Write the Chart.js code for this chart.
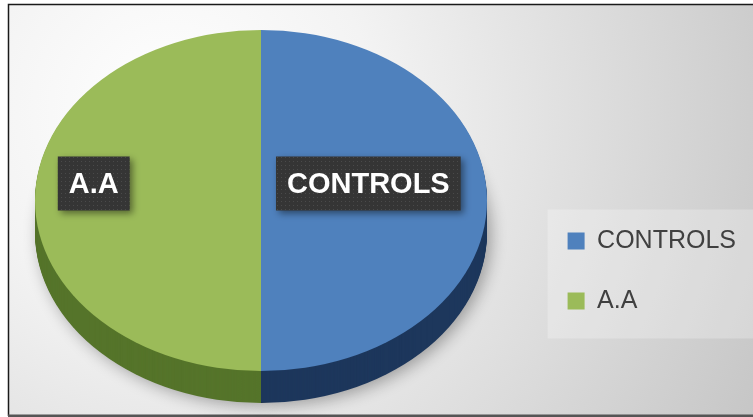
<!DOCTYPE html>
<html><head><meta charset="utf-8">
<script src="https://cdn.jsdelivr.net/npm/chart.js@4.4.1/dist/chart.umd.min.js"></script>
<style>html,body{margin:0;padding:0;background:#fff;overflow:hidden}canvas{display:block}</style>
</head><body>
<canvas id="c" width="753" height="417"></canvas>
<script>
const categories = ['CONTROLS', 'A.A'];
const values = [50, 50];
const topColors = ['#4f81bd', '#9bbb59'];
const sideColors = ['#1d375c', '#55742a'];
const labelRadius = [0.475, 0.74];

const FONT = '"Liberation Sans", Arial, sans-serif';

const bgPlugin = {
  id: 'bg',
  beforeDraw(chart) {
    const ctx = chart.ctx, W = chart.width, H = chart.height;
    ctx.save();
    ctx.fillStyle = '#ffffff';
    ctx.fillRect(0, 0, W, H);
    const g = ctx.createRadialGradient(170, 110, 0, 170, 110, 680);
    g.addColorStop(0, '#ffffff');
    g.addColorStop(0.3, '#f3f3f3');
    g.addColorStop(1, '#c4c4c4');
    ctx.fillStyle = g;
    ctx.fillRect(8, 4, W - 8, 411);
    const lg = chart.legend;
    if (lg && lg.legendHitBoxes && lg.legendHitBoxes.length) {
      const hb = lg.legendHitBoxes;
      const x0 = hb[0].left - 20, y0 = hb[0].top - 19;
      const last = hb[hb.length - 1];
      ctx.fillStyle = 'rgba(255,255,255,0.25)';
      ctx.fillRect(x0, y0, W - x0, last.top + last.height + 25 - y0);
    }
    ctx.strokeStyle = '#1a1a1a';
    ctx.lineWidth = 1.5;
    ctx.beginPath();
    ctx.moveTo(W + 2, 4.5);
    ctx.lineTo(8.5, 4.5);
    ctx.lineTo(8.5, 416);
    ctx.stroke();
    ctx.fillStyle = '#555555';
    ctx.fillRect(8, 414.5, W, 3);
    ctx.restore();
  }
};

const pie3d = {
  id: 'pie3d',
  beforeDatasetsDraw(chart, args, opts) {
    const meta = chart.getDatasetMeta(0);
    const arcs = meta.data;
    const ctx = chart.ctx;
    ctx.save();
    if (!arcs.length) return;
    const a0 = arcs[0];
    const R = a0.outerRadius;
    ctx.translate(opts.cx, opts.cy);
    ctx.scale(opts.rx / R, opts.ry / R);
    ctx.translate(-a0.x, -a0.y);
    const k = R / opts.ry;
    for (let d = opts.depth; d >= 1; d--) {
      arcs.forEach((arc, i) => {
        ctx.save();
        if (d === opts.depth) {
          ctx.shadowColor = 'rgba(0,0,0,0.33)';
          ctx.shadowBlur = 16;
          ctx.shadowOffsetX = 4;
          ctx.shadowOffsetY = 3;
        }
        ctx.beginPath();
        ctx.moveTo(arc.x, arc.y + d * k);
        ctx.arc(arc.x, arc.y + d * k, arc.outerRadius, arc.startAngle, arc.endAngle);
        ctx.closePath();
        ctx.fillStyle = opts.sideColors[i];
        ctx.fill();
        ctx.restore();
      });
    }
  },
  afterDatasetsDraw(chart) {
    chart.ctx.restore();
  }
};

const pc = document.createElement('canvas');
pc.width = 4; pc.height = 4;
const pctx = pc.getContext('2d');
pctx.fillStyle = '#353535'; pctx.fillRect(0, 0, 4, 4);
pctx.fillStyle = '#4a4a4a'; pctx.fillRect(1, 1, 1, 1);

const boxLabels = {
  id: 'boxLabels',
  afterDatasetsDraw(chart, args, opts) {
    const meta = chart.getDatasetMeta(0);
    const ctx = chart.ctx;
    const p = chart.options.plugins.pie3d;
    ctx.save();
    ctx.font = 'bold ' + opts.size + 'px ' + FONT;
    meta.data.forEach((arc, i) => {
      const mid = (arc.startAngle + arc.endAngle) / 2;
      const cx = p.cx + Math.cos(mid) * p.rx * opts.radius[i];
      const cy = p.cy + Math.sin(mid) * p.ry * opts.radius[i] + opts.dy;
      const text = String(chart.data.labels[i]);
      const w = ctx.measureText(text).width + 2 * opts.padX;
      const h = opts.height;
      ctx.save();
      ctx.shadowColor = 'rgba(0,0,0,0.45)';
      ctx.shadowBlur = 7;
      ctx.shadowOffsetX = 3;
      ctx.shadowOffsetY = 3;
      ctx.fillStyle = ctx.createPattern(pc, 'repeat');
      ctx.fillRect(cx - w / 2, cy - h / 2, w, h);
      ctx.restore();
      ctx.fillStyle = '#ffffff';
      ctx.textAlign = 'center';
      ctx.textBaseline = 'middle';
      ctx.fillText(text, cx, cy + 1);
    });
    ctx.restore();
  }
};

new Chart(document.getElementById('c'), {
  type: 'pie',
  data: {
    labels: categories,
    datasets: [{
      data: values,
      backgroundColor: topColors,
      borderColor: topColors,
      borderWidth: 0,
      clip: false
    }]
  },
  options: {
    responsive: false,
    animation: false,
    events: [],
    devicePixelRatio: 1,
    layout: { padding: { left: 40, top: 30, right: 7, bottom: 68.5 } },
    plugins: {
      tooltip: { enabled: false },
      legend: {
        position: 'right',
        align: 'end',
        labels: {
          boxWidth: 17,
          boxHeight: 17,
          padding: 35,
          color: '#404040',
          font: { family: FONT, size: 25 }
        }
      },
      pie3d: { cx: 261, cy: 200.5, rx: 226, ry: 170.5, depth: 32, sideColors: sideColors },
      boxLabels: { radius: labelRadius, dy: -17, padX: 11, height: 54, size: 29 }
    }
  },
  plugins: [bgPlugin, pie3d, boxLabels]
});
</script>
</body></html>
